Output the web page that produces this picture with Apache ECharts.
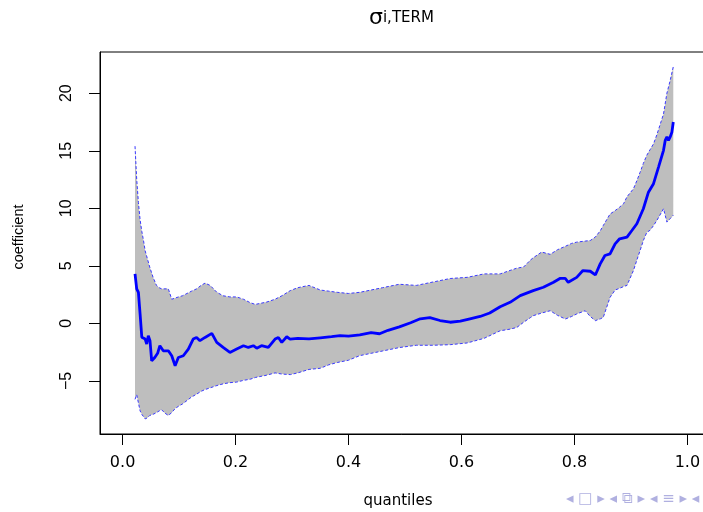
<!DOCTYPE html>
<html><head><meta charset="utf-8">
<script src="https://cdn.jsdelivr.net/npm/echarts@6/dist/echarts.min.js"></script>
<style>html,body{margin:0;padding:0;background:#fff}#c{width:703px;height:512px}</style>
</head><body><div id="c"></div>
<script>
// quantile grid of the confidence band
const bandQ = [0.022,0.025,0.028,0.031,0.034,0.037,0.040,0.044,0.048,0.054,0.060,0.065,0.069,0.075,0.081,0.087,0.093,0.099,0.106,0.114,0.122,0.131,0.139,0.146,0.155,0.167,0.178,0.190,0.202,0.214,0.226,0.235,0.245,0.255,0.270,0.282,0.297,0.310,0.330,0.350,0.365,0.380,0.400,0.420,0.440,0.460,0.490,0.520,0.550,0.580,0.610,0.640,0.6685,0.686,0.698,0.710,0.722,0.727,0.742,0.757,0.770,0.784,0.795,0.804,0.819,0.828,0.837,0.846,0.851,0.863,0.872,0.880,0.887,0.893,0.9045,0.9105,0.916,0.922,0.928,0.934,0.940,0.946,0.9577,0.9637,0.9695,0.975];
const upperBound = [15.4,12.5,10.5,9.0,8.0,7.2,6.3,5.6,4.9,4.0,3.3,3.1,3.0,3.0,3.0,2.1,2.2,2.3,2.4,2.6,2.8,3.0,3.3,3.5,3.3,2.7,2.4,2.3,2.3,2.1,1.8,1.65,1.75,1.85,2.1,2.4,2.85,3.1,3.3,2.9,2.8,2.7,2.6,2.7,2.9,3.1,3.4,3.3,3.6,3.9,4.0,4.3,4.3,4.6,4.8,4.9,5.5,5.7,6.2,6.0,6.4,6.7,6.95,7.06,7.15,7.2,7.5,8.07,8.5,9.5,9.8,10.1,10.4,11.0,11.7,12.4,13.1,13.9,14.6,15.1,15.6,16.4,18.2,20.0,21.1,22.3];
const lowerBound = [-6.6,-6.2,-6.9,-7.6,-7.9,-8.1,-8.3,-8.2,-8.0,-7.9,-7.75,-7.6,-7.5,-7.8,-8.0,-7.75,-7.4,-7.2,-7.0,-6.7,-6.4,-6.15,-5.9,-5.75,-5.6,-5.4,-5.25,-5.15,-5.1,-4.95,-4.85,-4.7,-4.6,-4.5,-4.3,-4.4,-4.45,-4.3,-4.0,-3.9,-3.6,-3.4,-3.2,-2.8,-2.6,-2.4,-2.1,-1.9,-1.9,-1.85,-1.7,-1.3,-0.64,-0.5,-0.35,0.1,0.5,0.67,0.9,1.1,0.7,0.38,0.6,0.82,1.1,0.6,0.24,0.4,0.52,2.26,2.9,3.05,3.2,3.3,4.6,5.5,6.3,7.2,7.9,8.1,8.5,8.95,9.96,8.8,9.1,9.4];
// estimated coefficient
const medianQ = [0.022,0.025,0.028,0.031,0.034,0.040,0.0427,0.0455,0.0485,0.0515,0.057,0.062,0.066,0.072,0.081,0.087,0.093,0.0987,0.1075,0.1164,0.125,0.131,0.137,0.146,0.158,0.1667,0.178,0.190,0.202,0.214,0.2226,0.2315,0.2375,0.246,0.258,0.270,0.2758,0.2818,0.2906,0.2965,0.310,0.330,0.350,0.370,0.385,0.400,0.420,0.440,0.455,0.470,0.490,0.510,0.527,0.544,0.562,0.580,0.598,0.615,0.633,0.650,0.6685,0.686,0.704,0.727,0.745,0.763,0.775,0.7836,0.789,0.804,0.815,0.828,0.837,0.8456,0.854,0.863,0.872,0.880,0.893,0.9017,0.9105,0.922,0.931,0.940,0.949,0.9577,0.9607,0.9637,0.9665,0.9695,0.9725,0.975];
const medianCoef = [4.3,3.0,2.7,0.8,-1.2,-1.36,-1.8,-1.07,-1.5,-3.25,-2.96,-2.6,-1.94,-2.38,-2.38,-2.81,-3.68,-2.96,-2.81,-2.23,-1.36,-1.22,-1.5,-1.22,-0.87,-1.65,-2.09,-2.52,-2.23,-1.94,-2.09,-1.94,-2.15,-1.94,-2.09,-1.36,-1.22,-1.65,-1.16,-1.36,-1.3,-1.35,-1.25,-1.15,-1.07,-1.1,-1.0,-0.8,-0.9,-0.6,-0.3,0.06,0.4,0.5,0.25,0.1,0.2,0.4,0.6,0.9,1.45,1.83,2.41,2.85,3.14,3.57,3.92,3.92,3.57,4.0,4.59,4.53,4.21,5.17,5.9,6.04,6.91,7.35,7.49,8.07,8.66,9.96,11.4,12.14,13.6,15.04,15.9,16.2,15.9,16.2,16.6,17.5];
const xTicks = [0, 0.2, 0.4, 0.6, 0.8, 1.0];
const yTicks = [-5, 0, 5, 10, 15, 20];

const chart = echarts.init(document.getElementById('c'), null, {renderer: 'canvas'});
const bandData = bandQ.map((q, i) => [q, lowerBound[i], upperBound[i]]);
const lowerPts = bandQ.map((q, i) => [q, lowerBound[i]]);
const upperPts = bandQ.map((q, i) => [q, upperBound[i]]);
const medPts = medianQ.map((q, i) => [q, medianCoef[i]]);

function renderBand(params, api) {
  if (params.dataIndex !== 0) return null;
  const pts = [];
  for (let i = 0; i < bandData.length; i++) pts.push(api.coord([bandData[i][0], bandData[i][2]]));
  for (let i = bandData.length - 1; i >= 0; i--) pts.push(api.coord([bandData[i][0], bandData[i][1]]));
  return {type: 'polygon', shape: {points: pts}, style: {fill: '#bebebe', stroke: null}, silent: true};
}

chart.setOption({
  animation: false,
  backgroundColor: '#fff',
  title: {
    text: '{s|σ}{sub|i,TERM}',
    left: 364, top: -6,
    textStyle: {
      rich: {
        s: {fontFamily: 'DejaVu Sans', fontSize: 22, fontWeight: 'normal', lineHeight: 26, color: '#000'},
        sub: {fontFamily: 'DejaVu Sans', fontSize: 15, fontWeight: 'normal', lineHeight: 38, color: '#000'}
      }
    }
  },
  grid: {left: 100, top: 52, right: -7, bottom: 78, show: true, borderColor: '#000', borderWidth: 1, containLabel: false, outerBoundsMode: 'none'},
  xAxis: {
    type: 'value', min: -0.04, max: 1.04,
    name: 'quantiles', nameLocation: 'middle', nameGap: 60,
    nameTextStyle: {fontFamily: 'DejaVu Sans', fontSize: 15, color: '#000', padding: [0, 14, 0, 0]},
    splitLine: {show: false},
    axisLine: {show: true, onZero: false, lineStyle: {color: '#000', width: 1}},
    axisTick: {show: true, length: 11, lineStyle: {color: '#000'}, customValues: xTicks},
    axisLabel: {customValues: xTicks, formatter: v => v.toFixed(1), fontFamily: 'DejaVu Sans', fontSize: 16, color: '#000', margin: 21}
  },
  yAxis: {
    type: 'value', min: -9.61, max: 23.58,
    name: 'coefficient', nameLocation: 'middle', nameGap: 74,
    nameTextStyle: {fontFamily: 'Liberation Sans', fontSize: 14.5, color: '#000', padding: [0, 0, 0, 12]},
    splitLine: {show: false},
    axisLine: {show: true, onZero: false, lineStyle: {color: '#000', width: 1}},
    axisTick: {show: true, length: 11, lineStyle: {color: '#000'}, customValues: yTicks},
    axisLabel: {customValues: yTicks, rotate: 90, formatter: v => String(v).replace('-', '\u2212'), fontFamily: 'Liberation Sans', fontSize: 16, color: '#000', margin: 25}
  },
  graphic: [{
    type: 'text', left: 566, top: 492,
    style: {text: '◂ □ ▸ ◂ ⧉ ▸ ◂ ≡ ▸ ◂', font: '15px "DejaVu Sans"', fill: '#b0b0e0'}
  }],
  series: [
    {type: 'custom', data: bandData, renderItem: renderBand, silent: true, z: 1,
     encode: {x: 0, y: [1, 2]}},
    {type: 'line', data: upperPts, symbol: 'none', silent: true,
     lineStyle: {color: '#3a3aff', width: 1, type: [3, 2]}, z: 2},
    {type: 'line', data: lowerPts, symbol: 'none', silent: true,
     lineStyle: {color: '#3a3aff', width: 1, type: [3, 2]}, z: 2},
    {type: 'line', data: medPts, symbol: 'none', silent: true,
     lineStyle: {color: '#0000ff', width: 2.8}, z: 3}
  ]
});
</script>
</body></html>
